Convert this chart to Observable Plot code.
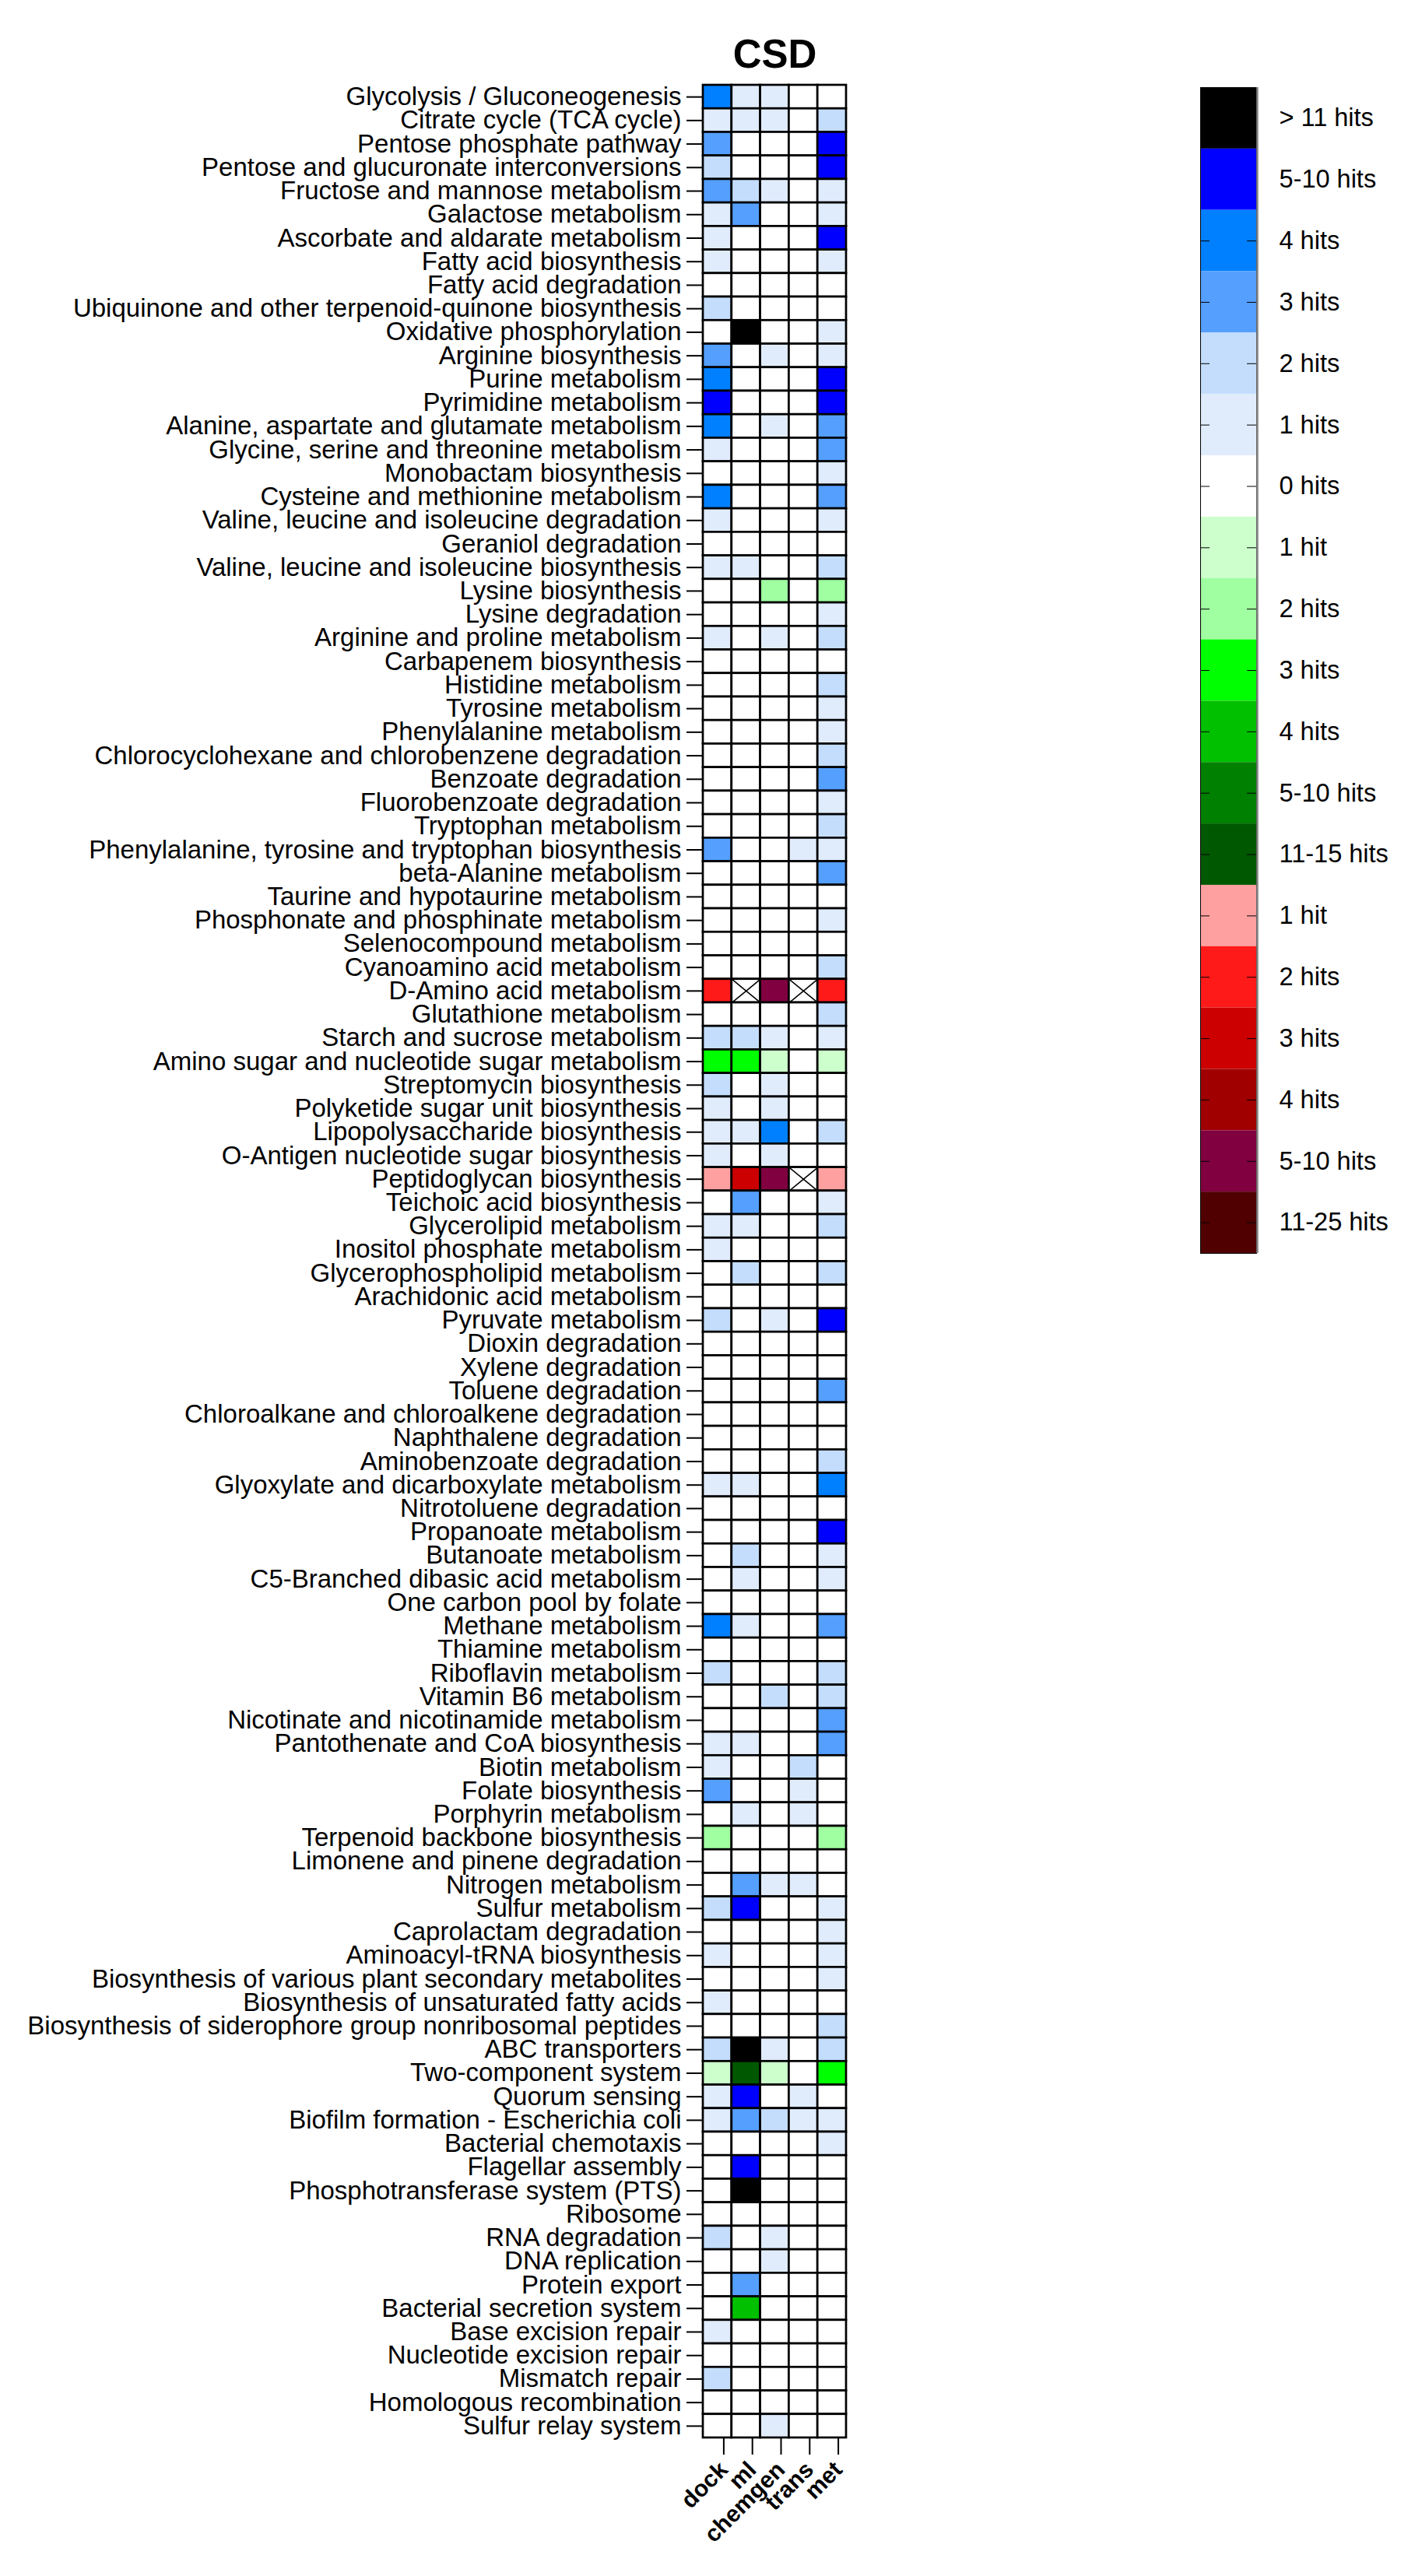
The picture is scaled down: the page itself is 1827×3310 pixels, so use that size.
<!DOCTYPE html>
<html>
<head>
<meta charset="utf-8">
<script src="https://cdn.jsdelivr.net/npm/d3@7"></script>
<script src="https://cdn.jsdelivr.net/npm/@observablehq/plot@0.6"></script>
<style>
  html, body { margin: 0; padding: 0; background: #fff; }
  #wrap { position: relative; width: 1827px; height: 3310px; }
  #main svg, #legend svg { display: block; }
  #legend { position: absolute; left: 1540px; top: 110px; }
</style>
</head>
<body>
<div id="wrap"><div id="main"></div><div id="legend"></div></div>
<script>
const title = "CSD";
const columns = ["dock", "ml", "chemgen", "trans", "met"];
const pathways = [
  "Glycolysis / Gluconeogenesis", "Citrate cycle (TCA cycle)", "Pentose phosphate pathway",
  "Pentose and glucuronate interconversions", "Fructose and mannose metabolism", "Galactose metabolism",
  "Ascorbate and aldarate metabolism", "Fatty acid biosynthesis", "Fatty acid degradation",
  "Ubiquinone and other terpenoid-quinone biosynthesis", "Oxidative phosphorylation", "Arginine biosynthesis",
  "Purine metabolism", "Pyrimidine metabolism", "Alanine, aspartate and glutamate metabolism",
  "Glycine, serine and threonine metabolism", "Monobactam biosynthesis", "Cysteine and methionine metabolism",
  "Valine, leucine and isoleucine degradation", "Geraniol degradation", "Valine, leucine and isoleucine biosynthesis",
  "Lysine biosynthesis", "Lysine degradation", "Arginine and proline metabolism",
  "Carbapenem biosynthesis", "Histidine metabolism", "Tyrosine metabolism",
  "Phenylalanine metabolism", "Chlorocyclohexane and chlorobenzene degradation", "Benzoate degradation",
  "Fluorobenzoate degradation", "Tryptophan metabolism", "Phenylalanine, tyrosine and tryptophan biosynthesis",
  "beta-Alanine metabolism", "Taurine and hypotaurine metabolism", "Phosphonate and phosphinate metabolism",
  "Selenocompound metabolism", "Cyanoamino acid metabolism", "D-Amino acid metabolism",
  "Glutathione metabolism", "Starch and sucrose metabolism", "Amino sugar and nucleotide sugar metabolism",
  "Streptomycin biosynthesis", "Polyketide sugar unit biosynthesis", "Lipopolysaccharide biosynthesis",
  "O-Antigen nucleotide sugar biosynthesis", "Peptidoglycan biosynthesis", "Teichoic acid biosynthesis",
  "Glycerolipid metabolism", "Inositol phosphate metabolism", "Glycerophospholipid metabolism",
  "Arachidonic acid metabolism", "Pyruvate metabolism", "Dioxin degradation",
  "Xylene degradation", "Toluene degradation", "Chloroalkane and chloroalkene degradation",
  "Naphthalene degradation", "Aminobenzoate degradation", "Glyoxylate and dicarboxylate metabolism",
  "Nitrotoluene degradation", "Propanoate metabolism", "Butanoate metabolism",
  "C5-Branched dibasic acid metabolism", "One carbon pool by folate", "Methane metabolism",
  "Thiamine metabolism", "Riboflavin metabolism", "Vitamin B6 metabolism",
  "Nicotinate and nicotinamide metabolism", "Pantothenate and CoA biosynthesis", "Biotin metabolism",
  "Folate biosynthesis", "Porphyrin metabolism", "Terpenoid backbone biosynthesis",
  "Limonene and pinene degradation", "Nitrogen metabolism", "Sulfur metabolism",
  "Caprolactam degradation", "Aminoacyl-tRNA biosynthesis", "Biosynthesis of various plant secondary metabolites",
  "Biosynthesis of unsaturated fatty acids", "Biosynthesis of siderophore group nonribosomal peptides", "ABC transporters",
  "Two-component system", "Quorum sensing", "Biofilm formation - Escherichia coli",
  "Bacterial chemotaxis", "Flagellar assembly", "Phosphotransferase system (PTS)",
  "Ribosome", "RNA degradation", "DNA replication",
  "Protein export", "Bacterial secretion system", "Base excision repair",
  "Nucleotide excision repair", "Mismatch repair", "Homologous recombination",
  "Sulfur relay system"
];

// codes: "0".."4" blue hits, "5" = 5-10 hits, "X" = >11 hits; g* green, r* red; "NA" = missing (crossed)
const dock = [
  "4","1","3","2","3","1","1","1","0","2",
  "0","3","4","5","4","1","0","4","1","0",
  "1","0","0","1","0","0","0","0","0","0",
  "0","0","3","0","0","0","0","0","r2","0",
  "2","g3","2","1","1","1","r1","0","1","1",
  "0","0","2","0","0","0","0","0","0","1",
  "0","0","0","0","0","4","0","2","0","0",
  "1","1","3","0","g2","0","0","2","0","1",
  "0","1","0","2","g1","1","1","0","0","0",
  "0","2","0","0","0","1","0","2","0","0"
];
const ml = [
  "1","1","0","0","2","3","0","0","0","0",
  "X","0","0","0","0","0","0","0","0","0",
  "1","0","0","0","0","0","0","0","0","0",
  "0","0","0","0","0","0","0","0","NA","0",
  "2","g3","0","0","1","0","r3","3","1","0",
  "2","0","0","0","0","0","0","0","0","1",
  "0","0","2","1","0","1","0","0","0","0",
  "1","0","0","1","0","0","3","5","0","0",
  "0","0","0","X","gX","5","3","0","5","X",
  "0","0","0","3","g4","0","0","0","0","0"
];
const chemgen = [
  "1","1","0","0","1","0","0","0","0","0",
  "0","1","0","0","1","0","0","0","0","0",
  "0","g2","0","1","0","0","0","0","0","0",
  "0","0","0","0","0","0","0","0","r5","0",
  "1","g1","1","1","4","1","r5","0","0","0",
  "0","0","1","0","0","0","0","0","0","0",
  "0","0","0","0","0","0","0","0","2","0",
  "0","0","0","0","0","0","1","0","0","0",
  "0","0","0","1","g1","0","2","0","0","0",
  "0","1","1","0","0","0","0","0","0","1"
];
const trans = [
  "0","0","0","0","0","0","0","0","0","0",
  "0","0","0","0","0","0","0","0","0","0",
  "0","0","0","0","0","0","0","0","0","0",
  "0","0","1","0","0","0","0","0","NA","0",
  "0","0","0","0","0","0","NA","0","0","0",
  "0","0","0","0","0","0","0","0","0","0",
  "0","0","0","0","0","0","0","0","0","0",
  "0","2","1","1","0","0","1","0","0","0",
  "0","0","0","0","0","1","1","0","0","0",
  "0","0","0","0","0","0","0","0","0","0"
];
const met = [
  "0","2","5","5","1","1","5","1","0","0",
  "1","1","5","5","3","3","1","3","1","0",
  "2","g2","1","2","0","2","1","1","2","3",
  "1","2","1","3","0","1","0","2","r2","2",
  "1","g1","0","0","2","0","r1","1","2","0",
  "2","0","5","0","0","3","0","0","2","4",
  "0","5","1","1","0","3","0","2","2","3",
  "3","0","0","0","g2","0","0","1","1","1",
  "1","0","2","2","g3","0","1","1","0","0",
  "0","0","0","0","0","0","0","0","0","0"
];

const legendKeys = ["X","5","4","3","2","1","0","g1","g2","g3","g4","g5","gX","r1","r2","r3","r4","r5","rX"];
const legendLabels = ["> 11 hits","5-10 hits","4 hits","3 hits","2 hits","1 hits","0 hits",
  "1 hit","2 hits","3 hits","4 hits","5-10 hits","11-15 hits",
  "1 hit","2 hits","3 hits","4 hits","5-10 hits","11-25 hits"];
const legendColors = ["#000000","#0000FF","#0080FF","#559FFF","#C4DDFC","#E0ECFC","#FFFFFF",
  "#CCFFCC","#A0FFA0","#00FF00","#00C000","#008000","#005800",
  "#FFA0A0","#FF1A1A","#CC0000","#A00000","#800040","#500000"];

const byColumn = {dock, ml, chemgen, trans, met};
const cells = [];
pathways.forEach((p, i) => columns.forEach(c => cells.push({row: p, col: c, v: byColumn[c][i]})));

const W = 1827, H = 3310, mL = 903, mR = 740, mT = 109, mB = 178;
const cellW = (W - mL - mR) / columns.length;
const cellH = (H - mT - mB) / pathways.length;
const crossSymbol = {
  draw(ctx) {
    const hw = cellW / 2, hh = cellH / 2;
    ctx.moveTo(-hw, -hh); ctx.lineTo(hw, hh);
    ctx.moveTo(hw, -hh); ctx.lineTo(-hw, hh);
  }
};
const font = "'Liberation Sans', Arial, Helvetica, sans-serif";

const main = Plot.plot({
  width: W, height: H,
  marginLeft: mL, marginRight: mR, marginTop: mT, marginBottom: mB,
  style: {fontFamily: font, background: "white", color: "black", overflow: "visible"},
  x: {type: "band", domain: columns, padding: 0, round: false, label: null},
  y: {type: "band", domain: pathways, padding: 0, round: false, label: null},
  color: {type: "ordinal", domain: legendKeys.concat(["NA"]), range: legendColors.concat(["#FFFFFF"])},
  marks: [
    Plot.cell(cells, {x: "col", y: "row", fill: "v", stroke: "black", strokeWidth: 2.7, inset: 0}),
    Plot.dot(cells.filter(d => d.v === "NA"), {x: "col", y: "row", symbol: crossSymbol, r: 5,
      stroke: "black", strokeWidth: 1.6, fill: "none"}),
    Plot.axisY({anchor: "left", tickSize: 21, tickPadding: 7, fontSize: 33, strokeWidth: 2, label: null}),
    Plot.axisX({anchor: "bottom", tickSize: 22, tickPadding: 14, dx: 8, tickRotate: -45, fontSize: 30,
      fontWeight: "bold", strokeWidth: 2, label: null}),
    Plot.text([title], {text: d => d, frameAnchor: "top", lineAnchor: "bottom", dy: -23,
      fontSize: 51, fontWeight: "bold"})
  ]
});
document.getElementById("main").appendChild(main);

const legendIdx = d3.range(legendLabels.length);
const legend = Plot.plot({
  width: 2 + 72 + 213, height: 1502,
  marginLeft: 2, marginRight: 213, marginTop: 2, marginBottom: 2,
  style: {fontFamily: font, background: "transparent", color: "black", overflow: "visible"},
  x: {type: "band", domain: ["key"], padding: 0, round: false, axis: null},
  y: {type: "band", domain: legendIdx, padding: 0, round: false},
  color: {type: "ordinal", domain: legendIdx, range: legendColors},
  marks: [
    Plot.cell(legendIdx, {x: () => "key", y: d => d, fill: d => d}),
    Plot.tickY(legendIdx.slice(2), {y: d => d, insetRight: 60, stroke: "black", strokeWidth: 1}),
    Plot.tickY(legendIdx.slice(2), {y: d => d, insetLeft: 60, stroke: "black", strokeWidth: 1}),
    Plot.frame({stroke: "black", strokeWidth: 1}),
    Plot.ruleX(["key"], {x: d => d, dx: 37, stroke: "#888", strokeWidth: 2.5}),
    Plot.axisY({anchor: "right", tickSize: 0, tickPadding: 29, fontSize: 32.5,
      tickFormat: i => legendLabels[i], label: null})
  ]
});
document.getElementById("legend").appendChild(legend);
</script>
</body>
</html>
